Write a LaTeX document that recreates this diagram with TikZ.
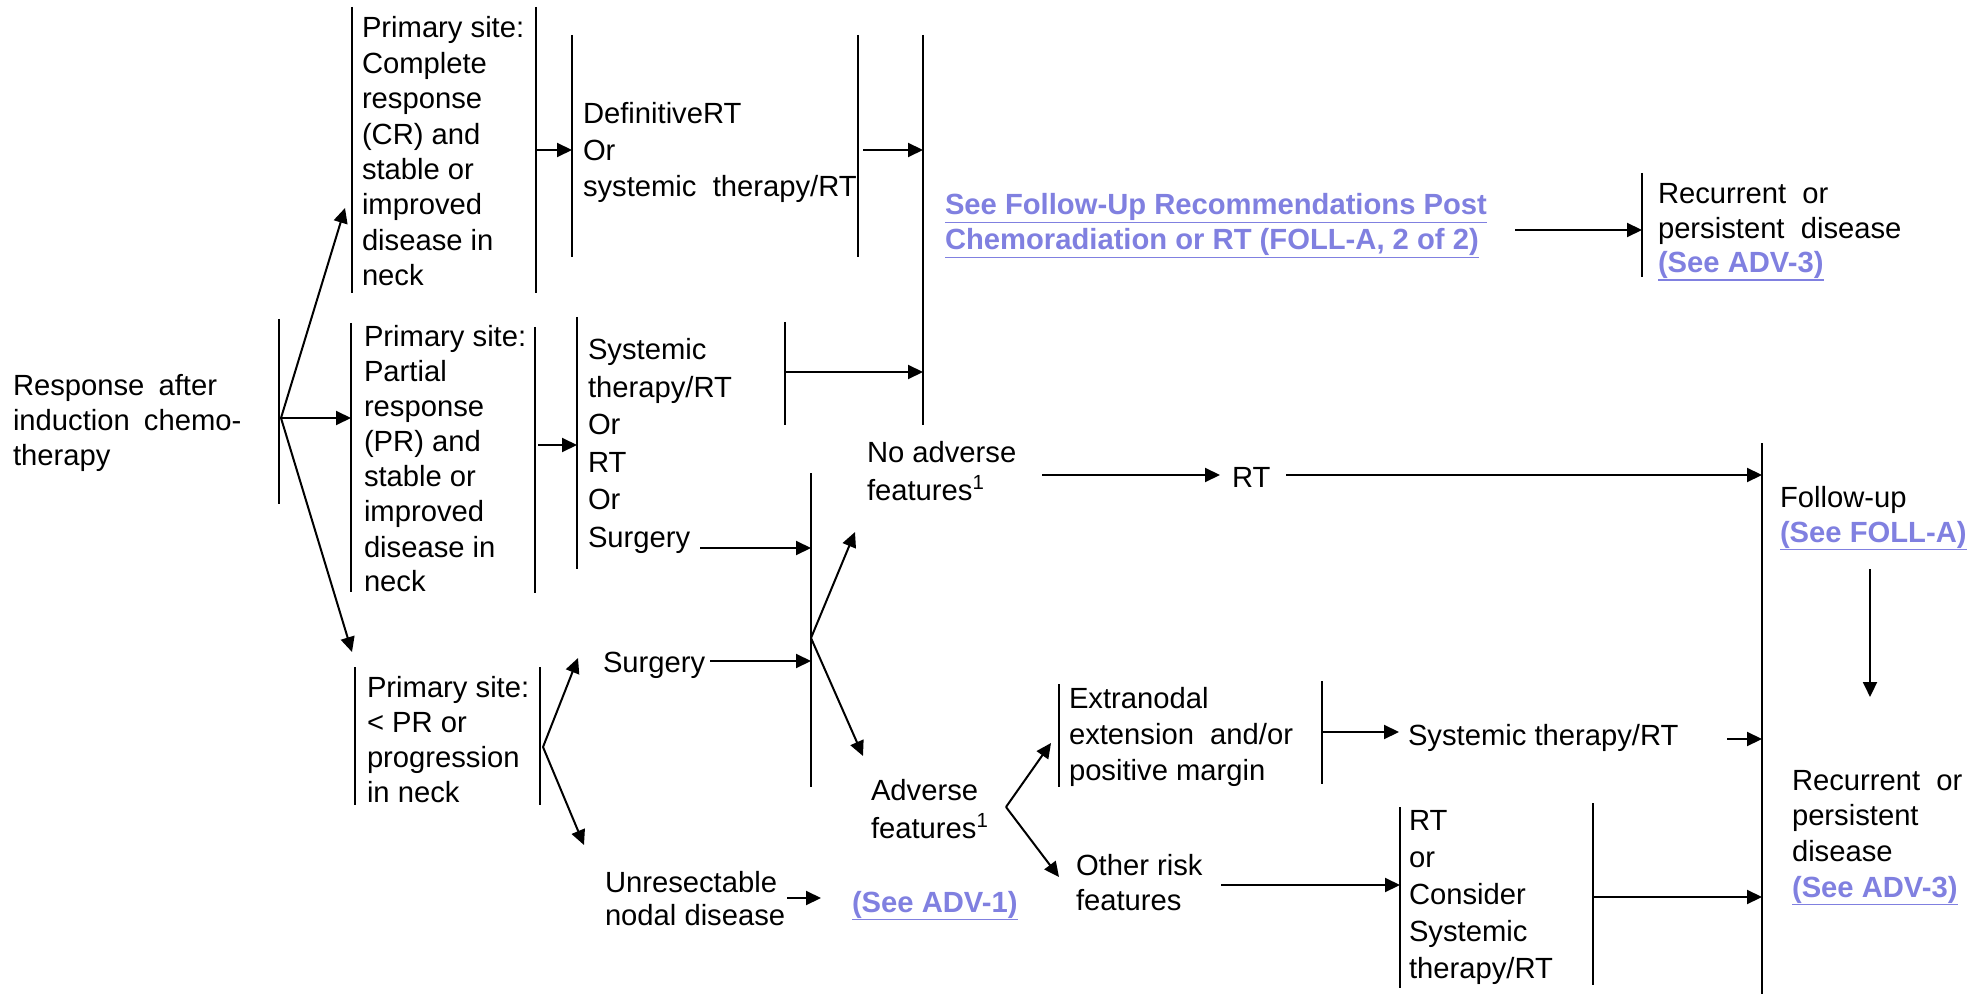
\documentclass[tikz,border=0pt]{standalone}
\usepackage{fontspec}
\setmainfont{Liberation Sans}
\usetikzlibrary{arrows.meta}
\definecolor{lnkcol}{RGB}{128,128,224}
\newcommand\fs{\fontsize{14.6pt}{17.5pt}\selectfont}
\newcommand\mlines[2]{{\renewcommand\arraystretch{#1}\begin{tabular}[t]{@{}l@{}}#2\end{tabular}}}
\newcommand\mylink[1]{{\color{lnkcol}\bfseries\setbox0\hbox{#1}\rlap{\usebox0}\rule[-\dimexpr\dp0+0.95pt\relax]{\wd0}{0.65pt}}}
\newcommand\xs{\hspace{3pt}}
\begin{document}
\begin{tikzpicture}[x=0.5pt,y=-0.5pt,
  txt/.style={inner sep=0pt,outer sep=0pt,anchor=base west,font=\fs},
  bar/.style={line width=0.9pt},
  arr/.style={line width=1pt,-{Triangle[length=7.5pt,width=7pt]}}]
\useasboundingbox (0,0) rectangle (1985,994);

% ---------- text nodes ----------
\node[txt] (resp) at (13,395) {\mlines{1}{Response\xs{} after\\induction\xs{} chemo-\\therapy}};
\node[txt] (cr) at (362,38) {\mlines{1.01}{Primary site:\\Complete\\response\\(CR) and\\stable or\\improved\\disease in\\neck}};
\node[txt] (pr) at (364,347) {\mlines{1}{Primary site:\\Partial\\response\\(PR) and\\stable or\\improved\\disease in\\neck}};
\node[txt] (lpr) at (367,697) {\mlines{1}{Primary site:\\< PR or\\progression\\in neck}};
\node[txt] (def) at (583,124) {\mlines{1.04}{DefinitiveRT\\Or\\systemic\ \ therapy/RT}};
\node[txt] (sys) at (588,360) {\mlines{1.07}{Systemic\\therapy/RT\\Or\\RT\\Or\\Surgery}};
\node[txt] (noadv) at (867,462) {\mlines{1.086}{No adverse\\features\textsuperscript{1}}};
\node[txt] (surg) at (603,672) {Surgery};
\node[txt] (unres) at (605,892) {\mlines{0.95}{Unresectable\\nodal disease}};
\node[txt] (adv1) at (852,912) {\mylink{(See ADV-1)}};
\node[txt] (adv) at (871,800) {\mlines{1.086}{Adverse\\features\textsuperscript{1}}};
\node[txt] (ext) at (1069,708) {\mlines{1.03}{Extranodal\\extension\ \ and/or\\positive margin}};
\node[txt] (other) at (1076,875) {\mlines{1}{Other risk\\features}};
\node[txt] (sysr) at (1408,745) {Systemic therapy/RT};
\node[txt] (rtc) at (1409,830) {\mlines{1.06}{RT\\or\\Consider\\Systemic\\therapy/RT}};
\node[txt] (recb) at (1792,790) {\mlines{1.02}{Recurrent\ \ or\\persistent\\disease\\\mylink{(See ADV-3)}}};
\node[txt] (fu) at (1780,507) {\mlines{1}{Follow-up\\\mylink{(See FOLL-A)}}};
\node[txt] (rt) at (1232,487) {RT};
\node[txt] (see) at (945,215) {\mlines{1}{\mylink{See Follow-Up Recommendations Post}\\\mylink{Chemoradiation or RT (FOLL-A, 2 of 2)}}};
\node[txt] (rect) at (1658,204) {\mlines{0.98}{Recurrent\ \ or\\persistent\ \ disease\\\mylink{(See ADV-3)}}};

% ---------- bars ----------
\coordinate (b0a) at (279,319);   \coordinate (b0b) at (279,504);
\coordinate (crla) at (352,7);    \coordinate (crlb) at (352,293);
\coordinate (crra) at (536,7);    \coordinate (crrb) at (536,293);
\coordinate (prla) at (351,323);  \coordinate (prlb) at (351,592);
\coordinate (prra) at (535,327);  \coordinate (prrb) at (535,593);
\coordinate (lpla) at (355,667);  \coordinate (lplb) at (355,805);
\coordinate (lpra) at (540,667);  \coordinate (lprb) at (540,805);
\coordinate (defla) at (572,35);  \coordinate (deflb) at (572,257);
\coordinate (defra) at (858,35);  \coordinate (defrb) at (858,257);
\coordinate (sysla) at (577,317); \coordinate (syslb) at (577,569);
\coordinate (sysra) at (785,322); \coordinate (sysrb) at (785,425);
\coordinate (big1a) at (923,35);  \coordinate (big1b) at (923,425);
\coordinate (mida) at (811,473);  \coordinate (midb) at (811,787);
\coordinate (extla) at (1059,684); \coordinate (extlb) at (1059,787);
\coordinate (extra) at (1322,681); \coordinate (extrb) at (1322,784);
\coordinate (rtcla) at (1400,807); \coordinate (rtclb) at (1400,988);
\coordinate (rtcra) at (1593,803); \coordinate (rtcrb) at (1593,985);
\coordinate (big2a) at (1762,443); \coordinate (big2b) at (1762,994);
\coordinate (recta) at (1642,173); \coordinate (rectb) at (1642,277);

\foreach \p in {b0,crl,crr,prl,prr,lpl,lpr,defl,defr,sysl,sysr,big1,mid,extl,extr,rtcl,rtcr,big2,rect}
  \draw[bar] (\p a) -- (\p b);

% ---------- arrows ----------
\coordinate (f0) at (281,418);
\coordinate (f0cr) at (345,208);
\coordinate (f0pr) at (351,418);
\coordinate (f0lp) at (352,652);
\draw[arr] (f0) -- (f0cr);
\draw[arr] (f0) -- (f0pr);
\draw[arr] (f0) -- (f0lp);

\draw[arr] (536,150) coordinate (crout) -- (572,150) coordinate (defin);
\draw[arr] (538,445) coordinate (prout) -- (577,445) coordinate (sysin);
\draw[arr] (863,150) coordinate (defout) -- (923,150) coordinate (big1in1);
\draw[arr] (785,372) coordinate (sysout) -- (923,372) coordinate (big1in2);
\draw[arr] (700,548) coordinate (surgout1) -- (811,548) coordinate (midin1);
\draw[arr] (710,661) coordinate (surgout2) -- (811,661) coordinate (midin2);

\coordinate (f1) at (811,638);
\coordinate (f1up) at (855,532);
\coordinate (f1dn) at (863,756);
\draw[arr] (f1) -- (f1up);
\draw[arr] (f1) -- (f1dn);

\coordinate (f2) at (543,747);
\coordinate (f2up) at (578,658);
\coordinate (f2dn) at (584,845);
\draw[arr] (f2) -- (f2up);
\draw[arr] (f2) -- (f2dn);

\draw[arr] (787,898) coordinate (unout) -- (821,898) coordinate (adv1in);

\coordinate (f3) at (1006,807);
\coordinate (f3up) at (1051,743);
\coordinate (f3dn) at (1059,877);
\draw[arr] (f3) -- (f3up);
\draw[arr] (f3) -- (f3dn);

\draw[arr] (1042,475) coordinate (noout) -- (1220,475) coordinate (rtin);
\draw[arr] (1286,475) coordinate (rtout) -- (1762,475) coordinate (big2in1);
\draw[arr] (1322,732) coordinate (extout) -- (1399,732) coordinate (sysrin);
\draw[arr] (1727,739) coordinate (sysrout) -- (1762,739) coordinate (big2in2);
\draw[arr] (1221,885) coordinate (othout) -- (1400,885) coordinate (rtcin);
\draw[arr] (1593,897) coordinate (rtcout) -- (1762,897) coordinate (big2in3);
\draw[arr] (1870,569) coordinate (fuout) -- (1870,697) coordinate (recbin);
\draw[arr] (1515,230) coordinate (seeout) -- (1642,230) coordinate (rectin);
\end{tikzpicture}
\end{document}
